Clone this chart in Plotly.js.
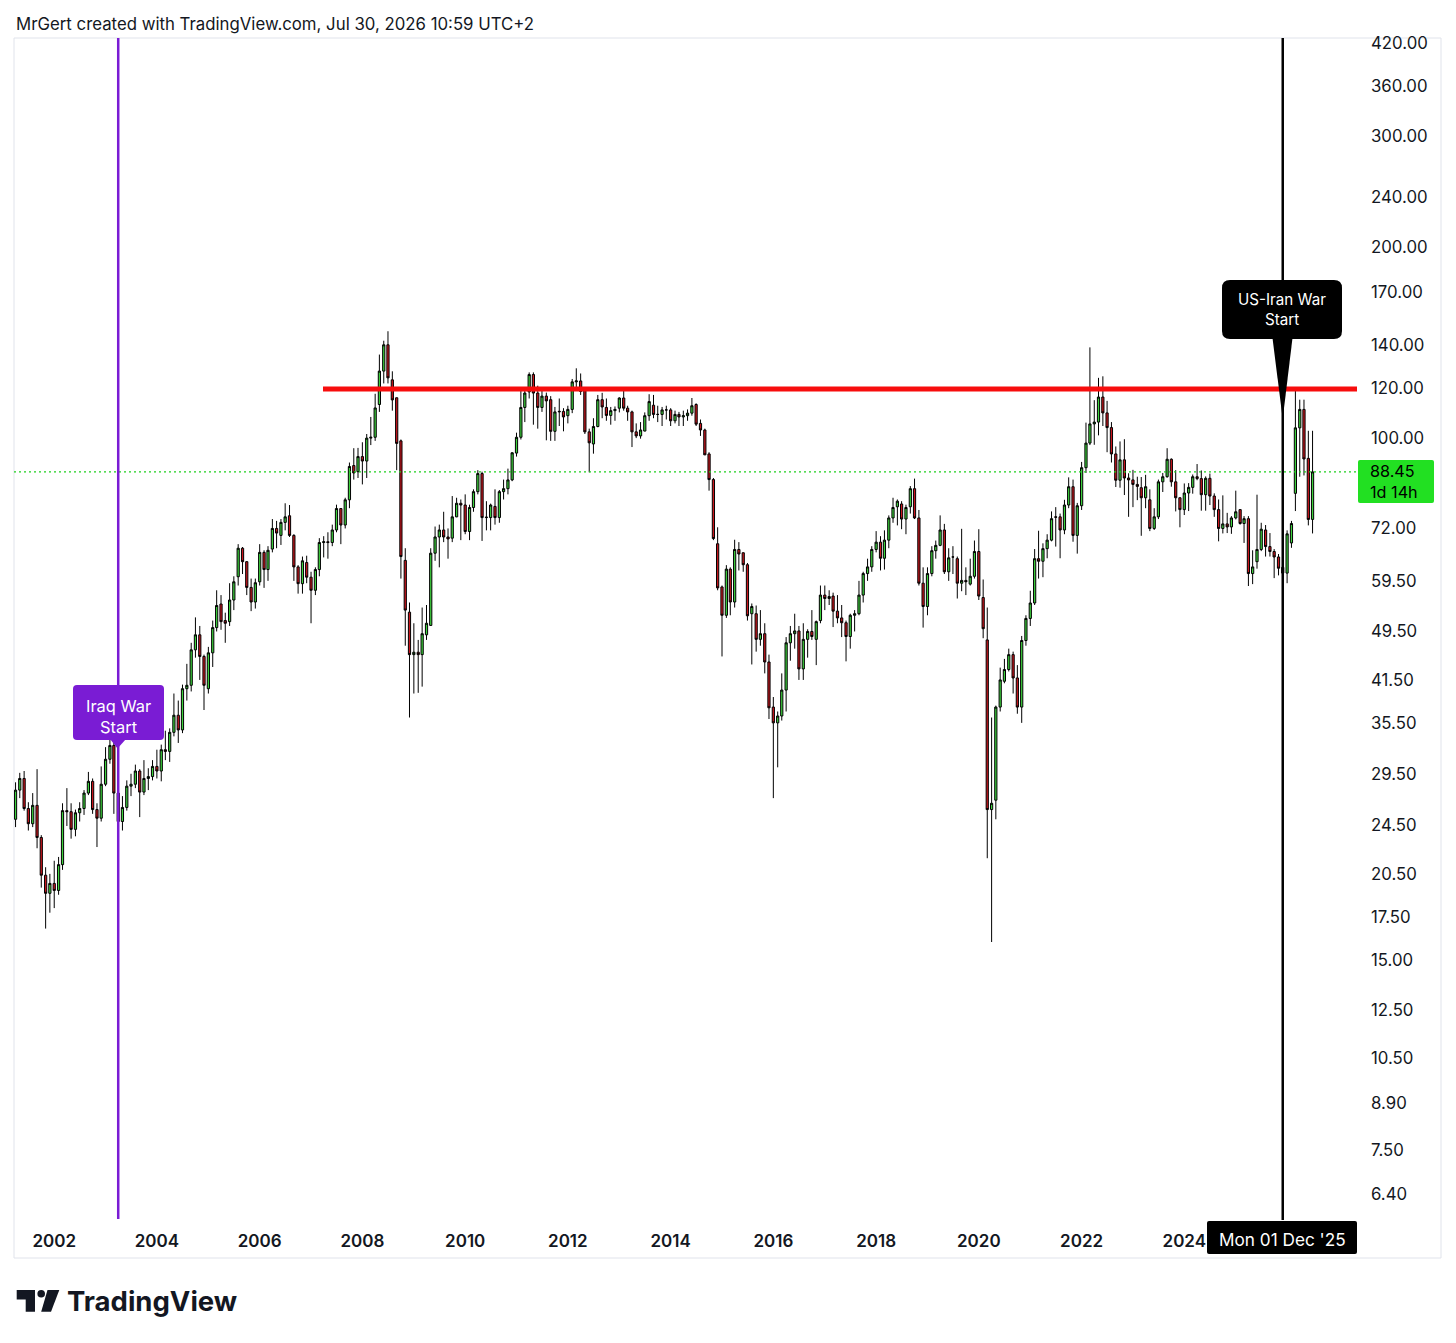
<!DOCTYPE html>
<html>
<head>
<meta charset="utf-8">
<script src="https://cdn.plot.ly/plotly-3.0.1.min.js"></script>
<style>html,body{margin:0;padding:0;background:#fff;}#chart{width:1456px;height:1343px;}</style>
</head>
<body>
<div id="chart"></div>
<script>
// ---- DATA (monthly candles, first bar = Apr 2001) ----
const startYear = 2001, startMonth = 4;
const open = [
25.0,27.8,29.0,26.0,24.6,26.3,23.4,20.4,19.1,
19.8,19.3,21.2,25.8,25.7,24.1,25.6,26.0,27.5,28.7,25.9,25.1,
28.4,31.1,32.7,27.5,24.8,26.1,28.2,28.4,29.8,27.6,29.0,29.2,
30.3,29.8,32.2,32.0,34.3,36.5,34.6,40.2,40.7,46.3,48.9,45.2,
40.2,45.8,50.2,54.7,51.5,51.3,55.5,60.4,67.0,63.8,58.1,55.1,
59.3,66.0,62.0,66.8,72.0,70.2,73.6,75.4,70.2,62.6,58.9,63.6,
60.3,57.5,62.0,68.4,68.6,68.4,71.6,77.4,72.9,79.9,90.5,88.5,
93.5,92.0,100.0,100.3,113.0,127.6,140.4,123.6,115.8,99.0,64.1,53.1,
45.5,45.9,45.5,48.9,50.6,65.8,69.8,71.6,69.8,69.5,75.1,78.9,
78.4,71.2,77.7,82.3,87.9,74.9,74.9,78.0,74.9,82.3,83.2,85.9,
94.7,100.3,111.8,118.3,126.0,117.8,111.8,116.5,115.0,102.5,110.0,110.2,
108.5,111.0,122.7,123.1,119.6,102.3,97.9,104.3,115.0,111.8,108.6,110.5,
111.5,115.7,111.5,110.0,102.3,100.8,102.6,108.5,112.7,109.0,109.0,110.8,
110.8,106.5,109.0,108.0,108.5,109.5,113.0,105.5,103.0,94.4,86.0,68.1,
58.2,52.5,62.1,55.1,66.7,65.9,63.1,52.8,52.8,48.1,49.1,44.3,
37.6,35.5,36.4,40.0,47.5,49.1,49.6,43.2,48.1,49.5,48.1,51.5,
56.5,55.8,56.3,53.3,52.0,51.1,48.6,52.5,52.8,56.5,61.1,62.6,
66.7,68.5,64.6,69.0,74.8,77.9,78.7,74.5,77.9,83.2,74.8,59.0,
54.2,61.1,66.4,67.7,71.6,61.5,64.9,64.5,59.0,59.6,58.8,60.5,
66.2,56.0,48.0,25.9,26.8,37.6,41.3,43.1,45.5,41.8,37.6,47.9,
51.9,54.9,64.5,63.9,66.9,69.0,75.1,75.1,71.6,78.4,83.8,70.2,
78.2,89.8,98.2,105.3,106.0,116.1,109.6,103.9,94.4,85.8,92.4,86.5,
85.9,84.5,83.5,80.5,79.9,72.0,75.1,85.3,86.9,92.6,85.3,80.5,
77.1,81.9,83.6,86.9,86.3,81.4,86.4,81.0,77.1,72.0,73.2,72.4,
74.8,77.1,73.3,74.6,61.1,63.8,66.7,71.6,67.4,66.2,64.9,62.5,
61.2,68.3,81.8,103.8,111.0,92.9,74.4
];
const high = [
28.6,29.6,29.8,26.6,27.5,30.0,23.6,21.0,20.5,
21.5,21.8,26.5,28.0,26.5,25.9,26.6,27.8,29.7,29.0,26.5,30.3,
32.5,33.8,34.0,27.8,27.2,28.8,29.5,30.5,30.0,31.0,30.1,31.0,
32.2,32.8,34.5,34.8,39.5,38.5,40.8,44.0,47.5,52.1,50.5,45.5,
46.8,51.5,57.5,56.5,53.0,59.0,60.5,68.0,67.3,63.9,60.0,60.0,
68.0,66.5,67.5,74.5,74.0,74.5,78.9,78.4,70.5,63.0,65.0,65.2,
61.5,62.5,69.5,70.0,71.0,73.0,78.5,77.5,80.5,91.5,96.4,96.5,
98.5,101.5,108.0,117.5,135.5,142.5,147.5,127.5,115.9,99.5,67.0,55.0,
51.0,48.0,54.0,54.5,67.0,72.5,73.0,76.5,72.0,81.0,80.5,80.0,
81.5,78.5,83.0,89.0,88.5,79.5,78.8,83.0,82.8,86.0,89.5,95.0,
102.0,120.0,119.5,127.0,127.0,121.0,119.0,118.0,116.5,112.0,115.5,111.5,
112.5,124.0,128.9,126.5,119.8,103.5,107.5,117.0,117.9,115.5,112.0,112.2,
116.0,119.0,112.5,110.5,105.5,106.0,109.8,117.3,117.0,112.5,112.0,112.5,
111.5,110.5,110.0,110.5,111.0,115.7,113.5,107.0,103.5,95.0,86.5,72.3,
58.5,63.0,62.5,69.1,68.5,66.0,63.5,54.8,54.4,53.5,51.0,45.5,
39.0,37.0,42.5,48.5,50.5,52.8,50.5,51.0,49.9,53.5,51.5,58.5,
58.5,57.5,57.0,56.5,54.5,51.5,52.8,53.5,59.5,61.5,64.5,67.5,
71.3,70.0,71.5,75.5,80.5,80.0,79.5,78.5,84.0,86.3,77.0,62.5,
62.5,67.5,68.9,75.5,73.2,67.0,67.5,65.0,71.9,62.5,64.5,68.9,
71.8,59.8,54.0,36.2,37.8,43.4,44.8,46.5,46.0,43.8,48.7,52.5,
57.4,66.8,71.4,68.2,70.5,76.6,77.8,76.0,79.9,86.7,86.0,79.0,
91.7,105.8,139.1,114.8,124.5,125.2,114.5,106.0,97.0,98.8,99.6,88.0,
89.1,86.9,86.8,87.5,83.0,77.5,86.0,88.1,96.4,92.9,89.0,80.6,
84.8,84.9,87.6,91.0,88.9,87.0,87.9,81.8,80.0,81.2,76.2,75.3,
82.6,77.2,75.3,75.3,66.5,81.4,73.5,72.9,70.8,66.8,65.6,63.8,
71.5,74.0,120.0,115.0,115.0,102.7,102.7
];
const low = [
24.3,27.0,25.8,24.0,24.3,22.5,19.5,16.8,17.8,
18.1,19.0,20.8,24.4,23.3,23.5,24.8,25.4,27.3,25.5,22.6,24.8,
28.2,30.6,25.5,23.6,24.0,25.8,27.2,28.0,25.2,27.3,27.8,28.8,
29.0,28.7,31.0,30.8,33.8,33.0,34.2,38.5,39.8,45.0,41.5,37.2,
39.5,43.5,49.5,49.8,47.5,50.5,53.5,58.5,61.0,56.5,53.3,53.8,
58.5,58.0,59.5,66.0,67.0,67.8,71.5,69.8,59.5,56.8,56.8,59.0,
51.0,56.5,60.5,64.8,64.5,67.5,71.0,68.0,72.0,77.5,86.0,86.5,
84.5,86.5,97.5,99.0,110.0,122.0,122.0,110.5,89.0,60.0,47.0,36.2,
39.5,39.6,40.5,48.0,50.5,64.0,62.5,68.5,64.5,68.5,75.0,69.0,
70.5,69.0,76.5,81.5,68.8,71.5,71.5,73.0,73.5,80.0,81.5,85.5,
93.5,99.5,106.0,115.5,105.0,103.5,110.0,99.2,99.0,99.0,104.5,102.5,
105.5,109.5,119.0,117.0,101.5,88.3,94.5,104.0,107.5,106.5,105.0,106.5,
109.8,110.5,106.5,96.8,100.0,99.8,102.5,106.5,107.5,106.0,104.5,107.0,
104.5,105.5,104.5,104.5,106.5,108.5,104.5,100.8,94.0,82.6,69.0,57.5,
45.2,52.0,52.5,54.0,61.8,61.5,51.5,43.9,46.0,47.0,42.5,36.0,
27.0,30.2,35.8,37.0,44.5,46.5,41.5,41.5,45.0,48.0,43.8,51.0,
53.5,54.5,50.3,51.0,48.5,44.4,46.5,49.5,52.5,55.0,59.5,61.5,
66.0,61.8,62.0,67.0,73.5,72.8,71.8,70.5,76.0,74.5,58.5,50.2,
52.5,60.5,64.5,67.5,61.0,59.5,61.0,55.8,57.3,56.5,58.5,60.0,
55.5,48.3,21.7,16.0,25.0,37.0,41.0,42.8,39.5,36.7,35.5,47.0,
50.5,54.5,60.0,60.3,64.6,68.7,67.4,64.6,70.5,77.5,68.6,65.7,
77.0,88.1,97.5,97.6,101.0,104.5,95.0,91.5,83.7,83.5,81.3,75.1,
77.8,79.8,70.1,77.5,71.3,71.6,74.5,82.2,86.6,83.8,76.6,72.3,
75.6,76.7,81.7,85.8,76.8,76.8,78.4,75.1,68.7,70.7,70.8,70.6,
74.4,73.0,68.3,58.4,58.8,62.2,66.3,65.0,65.0,60.1,60.7,60.0,
59.0,67.1,76.7,86.9,87.3,72.8,70.7
];
const close = [
27.8,29.0,26.0,24.6,26.3,23.4,20.4,19.1,19.8,
19.3,21.2,25.8,25.7,24.1,25.6,26.0,27.5,28.7,25.9,25.1,28.4,
31.1,32.7,27.5,24.8,26.1,28.2,28.4,29.8,27.6,29.0,29.2,30.3,
29.8,32.2,32.0,34.3,36.5,34.6,40.2,40.7,46.3,48.9,45.2,40.7,
45.8,50.2,54.4,51.3,51.0,55.5,59.3,67.0,63.8,58.1,55.1,59.1,
66.0,62.0,66.5,72.0,70.8,73.6,75.1,70.2,62.6,58.9,64.0,60.3,
57.5,62.0,68.4,68.6,68.4,71.6,77.4,72.9,79.9,90.2,88.1,93.5,
92.0,100.0,100.3,111.6,127.6,140.4,124.5,114.9,98.1,65.0,53.5,45.5,
45.9,45.5,49.1,51.0,65.8,69.8,71.6,69.8,69.3,75.1,78.9,78.4,
71.2,77.7,82.3,87.9,74.9,75.0,78.4,74.9,82.3,83.2,85.9,94.8,
100.3,111.8,117.8,126.0,117.8,111.8,116.5,114.5,102.5,110.0,110.2,108.0,
111.0,122.7,123.1,118.5,102.3,98.3,104.3,115.0,112.0,108.6,110.5,111.0,
115.7,111.5,110.0,102.3,100.8,103.0,108.5,114.2,109.0,109.0,110.8,110.8,
106.5,109.0,108.0,108.5,109.5,112.5,105.2,103.0,94.1,86.0,69.4,58.0,
52.5,62.1,55.1,66.7,65.6,63.1,52.4,54.2,48.1,49.1,44.3,37.5,
35.5,36.4,40.0,47.5,49.1,49.6,43.2,48.1,49.5,48.6,51.3,56.5,
55.8,56.2,53.3,52.0,51.1,48.6,52.5,52.8,56.5,61.1,62.6,66.7,
68.5,64.6,69.0,74.8,77.7,79.5,74.5,77.7,83.2,74.8,59.0,54.2,
61.1,66.4,67.7,71.6,61.5,64.7,64.9,59.0,59.6,59.3,60.5,66.2,
56.3,50.0,25.9,26.5,37.6,41.5,43.1,45.5,41.8,37.6,47.9,51.9,
54.9,64.5,63.9,66.9,69.0,74.6,75.0,71.6,78.4,83.8,70.2,78.2,
89.8,98.2,105.3,106.0,116.1,109.6,103.9,94.4,85.8,92.4,86.5,85.9,
84.5,83.9,80.5,83.8,72.0,75.1,85.3,86.9,92.6,85.3,80.5,77.1,
81.9,83.6,86.9,86.3,81.4,86.4,81.0,77.1,72.0,73.2,72.4,74.8,
76.5,73.3,74.6,61.1,62.6,66.7,71.8,67.4,66.2,64.9,62.3,61.2,
70.6,73.3,103.8,111.0,92.7,74.4,88.45
];
const priceTicks = [6.4,7.5,8.9,10.5,12.5,15,17.5,20.5,24.5,29.5,35.5,41.5,49.5,59.5,72,100,120,140,170,200,240,300,360,420];
const yearTicks = [2002,2004,2006,2008,2010,2012,2014,2016,2018,2020,2022,2024];
const lastPrice = 88.45;
const resistance = 119.5;
const resistanceStart = '2007-03-27';
const iraqWarDate = '2003-04-01';
const iranWarDate = '2025-12-01';

// ---- build dates ----
function pad(n){return (n<10?'0':'')+n;}
const dates = close.map((_, i) => {
  const m = startMonth - 1 + i;
  return (startYear + Math.floor(m/12)) + '-' + pad(m%12 + 1) + '-01';
});

// ---- geometry helpers (pixel -> paper) ----
const W = 1456, H = 1343;
const ML = 14, MR = 99, MT = 38, MB = 123;
const PW = W - ML - MR, PH = H - MT - MB;
const px = x => (x - ML) / PW;
const py = y => (H - MB - y) / PH;
function rrect(x0,y0,x1,y1,r){
  return 'M'+px(x0+r)+','+py(y0)+' L'+px(x1-r)+','+py(y0)+' Q'+px(x1)+','+py(y0)+' '+px(x1)+','+py(y0+r)+
    ' L'+px(x1)+','+py(y1-r)+' Q'+px(x1)+','+py(y1)+' '+px(x1-r)+','+py(y1)+
    ' L'+px(x0+r)+','+py(y1)+' Q'+px(x0)+','+py(y1)+' '+px(x0)+','+py(y1-r)+
    ' L'+px(x0)+','+py(y0+r)+' Q'+px(x0)+','+py(y0)+' '+px(x0+r)+','+py(y0)+' Z';
}
function poly(pts){
  return 'M' + pts.map(p => px(p[0])+','+py(p[1])).join(' L') + ' Z';
}

const xRange = ['2001-03-21', '2027-05-13'];
const yRange = [Math.log10(5.8216), Math.log10(428.5)];

const FONT = 'Inter, "Noto Sans", Roboto, sans-serif';
const TXT = '#131722';

const traces = [
  {
    type: 'scatter', mode: 'lines', x: xRange, y: [lastPrice, lastPrice],
    line: {color: '#1fd01f', width: 1.3, dash: '2px,3px'}, hoverinfo: 'skip', showlegend: false
  },
  {
    type: 'candlestick', x: dates, open: open, high: high, low: low, close: close,
    increasing: {line: {color: '#000000', width: 1}, fillcolor: '#3dd13d'},
    decreasing: {line: {color: '#000000', width: 1}, fillcolor: '#c8161d'},
    whiskerwidth: 0, hoverinfo: 'skip', showlegend: false
  },
  {
    type: 'scatter', mode: 'lines', x: [resistanceStart, xRange[1]], y: [resistance, resistance],
    line: {color: '#f70d0d', width: 5}, hoverinfo: 'skip', showlegend: false
  }
];

const shapes = [
  // chart frame
  {type:'rect', xref:'paper', yref:'paper', x0:0, x1:px(1441), y0:py(1258), y1:1,
   line:{color:'#e0e3eb', width:1}, fillcolor:'rgba(0,0,0,0)', layer:'below'},
  // Iraq war vertical
  {type:'line', xref:'x', yref:'paper', x0:iraqWarDate, x1:iraqWarDate, y0:py(1219), y1:1,
   line:{color:'#7a1cd4', width:2.5}},
  // Iran war vertical
  {type:'line', xref:'x', yref:'paper', x0:iranWarDate, x1:iranWarDate, y0:0, y1:1,
   line:{color:'#000000', width:2.5}},
  // Iraq box
  {type:'path', xref:'paper', yref:'paper', path: rrect(73,685,164,740,4), fillcolor:'#7a1cd4', line:{width:0}},
  {type:'path', xref:'paper', yref:'paper', path: poly([[110,739],[126,739],[117.5,748.5]]), fillcolor:'#7a1cd4', line:{width:0}},
  // Iran box
  {type:'path', xref:'paper', yref:'paper', path: rrect(1222,280,1342,339,8), fillcolor:'#000000', line:{width:0}},
  {type:'path', xref:'paper', yref:'paper', path: poly([[1272.5,338],[1292.5,338],[1282.7,419]]), fillcolor:'#000000', line:{width:0}},
  // last price label
  {type:'path', xref:'paper', yref:'paper', path: rrect(1358,460,1434,503,2), fillcolor:'#22e022', line:{width:0}},
  // date label
  {type:'path', xref:'paper', yref:'paper', path: rrect(1207,1221,1357,1254,2), fillcolor:'#000000', line:{width:0}},
  // TradingView logo
  {type:'path', xref:'paper', yref:'paper', path: poly([[16.7,1290],[35,1290],[35,1311.7],[25.7,1311.7],[25.7,1299.5],[16.7,1299.5]]), fillcolor:'#131722', line:{width:0}},
  {type:'circle', xref:'paper', yref:'paper', x0:px(37.4), x1:px(45), y0:py(1297.6), y1:py(1290), fillcolor:'#131722', line:{width:0}},
  {type:'path', xref:'paper', yref:'paper', path: poly([[47.5,1290],[59.3,1290],[51,1311.7],[41.2,1311.7]]), fillcolor:'#131722', line:{width:0}}
];

const annotations = [
  {xref:'paper', yref:'paper', x:0, y:py(24), xanchor:'left', yanchor:'middle', showarrow:false,
   text:'MrGert created with TradingView.com, Jul 30, 2026 10:59 UTC+2', font:{family:FONT, size:16.8, color:TXT}},
  {xref:'paper', yref:'paper', x:px(118.5), y:py(716), xanchor:'center', yanchor:'middle', showarrow:false,
   text:'Iraq War<br>Start', font:{family:FONT, size:16.4, color:'#ffffff'}},
  {xref:'paper', yref:'paper', x:px(1282), y:py(309.5), xanchor:'center', yanchor:'middle', showarrow:false,
   text:'US-Iran War<br>Start', font:{family:FONT, size:15.2, color:'#ffffff'}},
  {xref:'paper', yref:'paper', x:px(1368), y:py(481.5), xanchor:'left', yanchor:'middle', align:'left', showarrow:false,
   text: lastPrice.toFixed(2) + '<br>1d 14h', font:{family:FONT, size:16.2, color:'#000000'}},
  {xref:'paper', yref:'paper', x:px(1282), y:py(1239), xanchor:'center', yanchor:'middle', showarrow:false,
   text:"Mon 01 Dec '25", font:{family:FONT, size:17.2, color:'#ffffff'}},
  {xref:'paper', yref:'paper', x:px(65), y:py(1301), xanchor:'left', yanchor:'middle', showarrow:false,
   text:'TradingView', font:{family:FONT, size:27.5, color:TXT, weight:700}}
];

const layout = {
  width: W, height: H, autosize: false,
  margin: {l: ML, r: MR, t: MT, b: MB, pad: 0},
  paper_bgcolor: '#ffffff', plot_bgcolor: '#ffffff',
  showlegend: false, boxgap: 0.2,
  xaxis: {
    type: 'date', range: xRange, showgrid: false, zeroline: false, showline: false,
    ticks: '', ticklen: 0, ticklabelstandoff: 9,
    tickvals: yearTicks.map(y => y + '-01-01'), ticktext: yearTicks.map(String),
    tickfont: {family: FONT, size: 17, color: TXT, weight: 600},
    rangeslider: {visible: false}, fixedrange: true
  },
  yaxis: {
    type: 'log', side: 'right', range: yRange, showgrid: false, zeroline: false, showline: false,
    ticks: '', ticklen: 0, ticklabelstandoff: 13,
    tickvals: priceTicks, ticktext: priceTicks.map(v => v.toFixed(2)),
    tickfont: {family: FONT, size: 16.8, color: TXT}, fixedrange: true
  },
  shapes: shapes,
  annotations: annotations
};

Plotly.newPlot('chart', traces, layout, {displayModeBar: false, staticPlot: true});
</script>
</body>
</html>
